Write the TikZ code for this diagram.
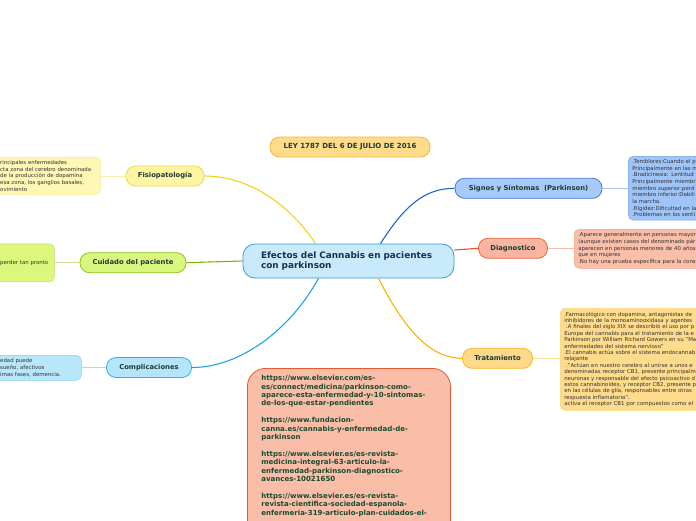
\documentclass[tikz,border=0pt]{standalone}
\usepackage{fontspec}
\setmainfont{DejaVu Sans}
\usetikzlibrary{positioning}

\definecolor{hubfill}{HTML}{C8EAFB}
\definecolor{hubline}{HTML}{3A9AD8}
\definecolor{hubtext}{HTML}{1A2E55}
\definecolor{titletext}{HTML}{1D3B36}
\definecolor{notetext}{HTML}{333333}
\definecolor{urltext}{HTML}{1A4A30}
\definecolor{leyfill}{HTML}{FFDB8A}
\definecolor{leyline}{HTML}{F5B640}
\definecolor{fisfill}{HTML}{FFF4A3}
\definecolor{fisline}{HTML}{F0D848}
\definecolor{fislink}{HTML}{F2D21E}
\definecolor{fisnote}{HTML}{FFF7B4}
\definecolor{cuifill}{HTML}{D9F77F}
\definecolor{cuiline}{HTML}{8CC21A}
\definecolor{cuilink}{HTML}{7CB800}
\definecolor{cuinote}{HTML}{DCF77C}
\definecolor{comfill}{HTML}{B5E5FB}
\definecolor{comline}{HTML}{38AEEA}
\definecolor{comlink}{HTML}{1BA4E8}
\definecolor{comnote}{HTML}{B8E6FB}
\definecolor{sigfill}{HTML}{A9C9FA}
\definecolor{sigline}{HTML}{3A7AD8}
\definecolor{siglink}{HTML}{1A66CC}
\definecolor{signote}{HTML}{9FC4F8}
\definecolor{diafill}{HTML}{F9B5A0}
\definecolor{dialine}{HTML}{E8643C}
\definecolor{dialink}{HTML}{E8522A}
\definecolor{dianote}{HTML}{FBBEA9}
\definecolor{trafill}{HTML}{FFD98A}
\definecolor{traline}{HTML}{F5B820}
\definecolor{tralink}{HTML}{F7B500}
\definecolor{tranote}{HTML}{FFDB8C}
\definecolor{urlfill}{HTML}{F9BDA8}
\definecolor{urlline}{HTML}{E85A30}

\begin{document}
\begin{tikzpicture}[
  x=1pt, y=-1pt,
  hub/.style={draw=hubline, fill=hubfill, line width=0.8pt, rounded corners=12pt,
              align=left, text width=175pt, minimum height=34pt, inner xsep=18pt,
              font=\bfseries\fontsize{8.9}{10.7}\selectfont, text=hubtext},
  topic/.style={line width=0.8pt, rounded corners=9.5pt, minimum height=20pt,
                inner xsep=2pt, font=\bfseries\fontsize{6.8}{8}\selectfont, text=titletext},
  note/.style={line width=0.5pt, rounded corners=5pt, align=left, anchor=north west,
               inner xsep=4pt, inner ysep=3pt, text=notetext,
               font=\fontsize{5.4}{6.7}\selectfont},
  link/.style={line width=1.1pt},
  twig/.style={line width=0.9pt},
]
  \useasboundingbox (0,0) rectangle (696,520);

  % main idea
  \node[hub] (hub) at (348.5,261) {Efectos del Cannabis en pacientes\\con parkinson};
  \node[topic, draw=leyline, fill=leyfill, minimum width=160pt,
        font=\bfseries\fontsize{7}{8}\selectfont] (ley) at (350,147) {LEY 1787 DEL 6 DE JULIO DE 2016};

  % topics
  \node[topic, draw=fisline, fill=fisfill, minimum width=78pt] (fis) at (165,176) {Fisiopatología};
  \node[topic, draw=cuiline, fill=cuifill, minimum width=106pt] (cui) at (133,262.7) {Cuidado del paciente};
  \node[topic, draw=comline, fill=comfill, minimum width=85pt] (com) at (149,367.5) {Complicaciones};
  \node[topic, draw=sigline, fill=sigfill, minimum width=147pt] (sig) at (528.5,188.3) {Signos y Síntomas\ \ (Parkinson)};
  \node[topic, draw=dialine, fill=diafill, minimum width=69pt] (dia) at (513,248.3) {Diagnostico};
  \node[topic, draw=traline, fill=trafill, minimum width=70pt] (tra) at (497.5,358.3) {Tratamiento};

  % notes
  \node[note, draw=fisline!60, fill=fisnote, text width=96pt, minimum height=37pt] (fisn) at (-4,157)
    {rincipales enfermedades\\cta zona del cerebro denominada\\de la producción de dopamina\\esa zona, los ganglios basales,\\ovimiento};
  \node[note, draw=cuiline!60, fill=cuinote, text width=50pt, minimum height=38pt] (cuin) at (-4,243.5)
    {perder tan pronto};
  \node[note, draw=comline!60, fill=comnote, text width=77pt, minimum height=25pt] (comn) at (-4,355)
    {edad puede\\ sueño, afectivos\\imas fases, demencia.};
  \node[note, draw=sigline!70, fill=signote, text width=90pt, minimum height=63pt] (sign) at (628,156)
    {.Temblores:Cuando el p\\Principalmente en las m\\.Bradicinesia: Lentitud\\Principalmente miembr\\miembro superior:perd\\miembro inferior:Debili\\la marcha.\\.Rigidez:Dificultad en la\\.Problemas en los senti};
  \node[note, draw=dialine!60, fill=dianote, text width=140pt, minimum height=39pt] (dian) at (574,229)
    {.Aparece generalmente en personas mayor\\(aunque existen casos del denominado pár\\aparecen en personas menores de 40 años\\que en mujeres\\.No hay una prueba específica para la cons};
  \node[note, draw=traline!60, fill=tranote, text width=150pt, minimum height=102pt,
        font=\fontsize{5.4}{6.4}\selectfont] (tran) at (560,308)
    {.Farmacológico con dopamina, antagonistas de\\inhibidores de la monoaminooxidasa y agentes\\
     \ .A finales del siglo XIX se describió el uso por p\\Europa del cannabis para el tratamiento de la e\\
     Parkinson por William Richard Gowers en su "Ma\\enfermedades del sistema nervioso"\\
     .El cannabis actúa sobre el sistema endocannab\\relajante\\
     \ .''Actúan en nuestro cerebro al unirse a unos e\\denominadas receptor CB1, presente principalm\\
     neuronas y responsable del efecto psicoactivo d\\estos cannabinoides, y receptor CB2, presente p\\
     en las células de glía, responsables entre otras\\respuesta inflamatoria".\\
     activa el receptor CB1 por compuestos como el};

  % sources
  \node[draw=urlline, fill=urlfill, line width=0.8pt, rounded corners=18pt, anchor=north west,
        align=left, text width=175pt, inner xsep=14pt, inner ysep=7pt, text depth=160pt,
        text=urltext, font=\bfseries\fontsize{7}{8.4}\selectfont] (urls) at (247,368)
    {https://www.elsevier.com/es-\\es/connect/medicina/parkinson-como-\\aparece-esta-enfermedad-y-10-sintomas-\\de-los-que-estar-pendientes\\[8.4pt]
     https://www.fundacion-\\canna.es/cannabis-y-enfermedad-de-\\parkinson\\[8.4pt]
     https://www.elsevier.es/es-revista-\\medicina-integral-63-articulo-la-\\enfermedad-parkinson-diagnostico-\\avances-10021650\\[8.4pt]
     https://www.elsevier.es/es-revista-\\revista-cientifica-sociedad-espanola-\\enfermeria-319-articulo-plan-cuidados-el-};

  % branches
  \draw[link, fislink] ([xshift=-33pt]hub.north) .. controls (295,212) and (255,176) .. (fis.east);
  \draw[link, cuilink] (hub.west) -- (cui.east);
  \draw[link, comlink] ([xshift=-30pt]hub.south) .. controls (290,330) and (240,367.5) .. (com.east);
  \draw[link, siglink] ([xshift=32pt]hub.north) .. controls (405,205) and (425,188.3) .. (sig.west);
  \draw[link, dialink] ([yshift=11pt]hub.east) -- (dia.west);
  \draw[link, tralink] ([xshift=30pt]hub.south) .. controls (405,330) and (430,358.3) .. (tra.west);

  % twigs to notes
  \draw[twig, fisline!45] (fis.west) -- (fisn.east |- fis.west);
  \draw[twig, cuiline!45] (cui.west) -- (cuin.east |- cui.west);
  \draw[twig, comline!45] (com.west) -- (comn.east |- com.west);
  \draw[twig, sigline!45] (sig.east) -- (sign.west |- sig.east);
  \draw[twig, dialine!45] (dia.east) -- (dian.west |- dia.east);
  \draw[twig, traline!45] (tra.east) -- (tran.west |- tra.east);
\end{tikzpicture}
\end{document}
